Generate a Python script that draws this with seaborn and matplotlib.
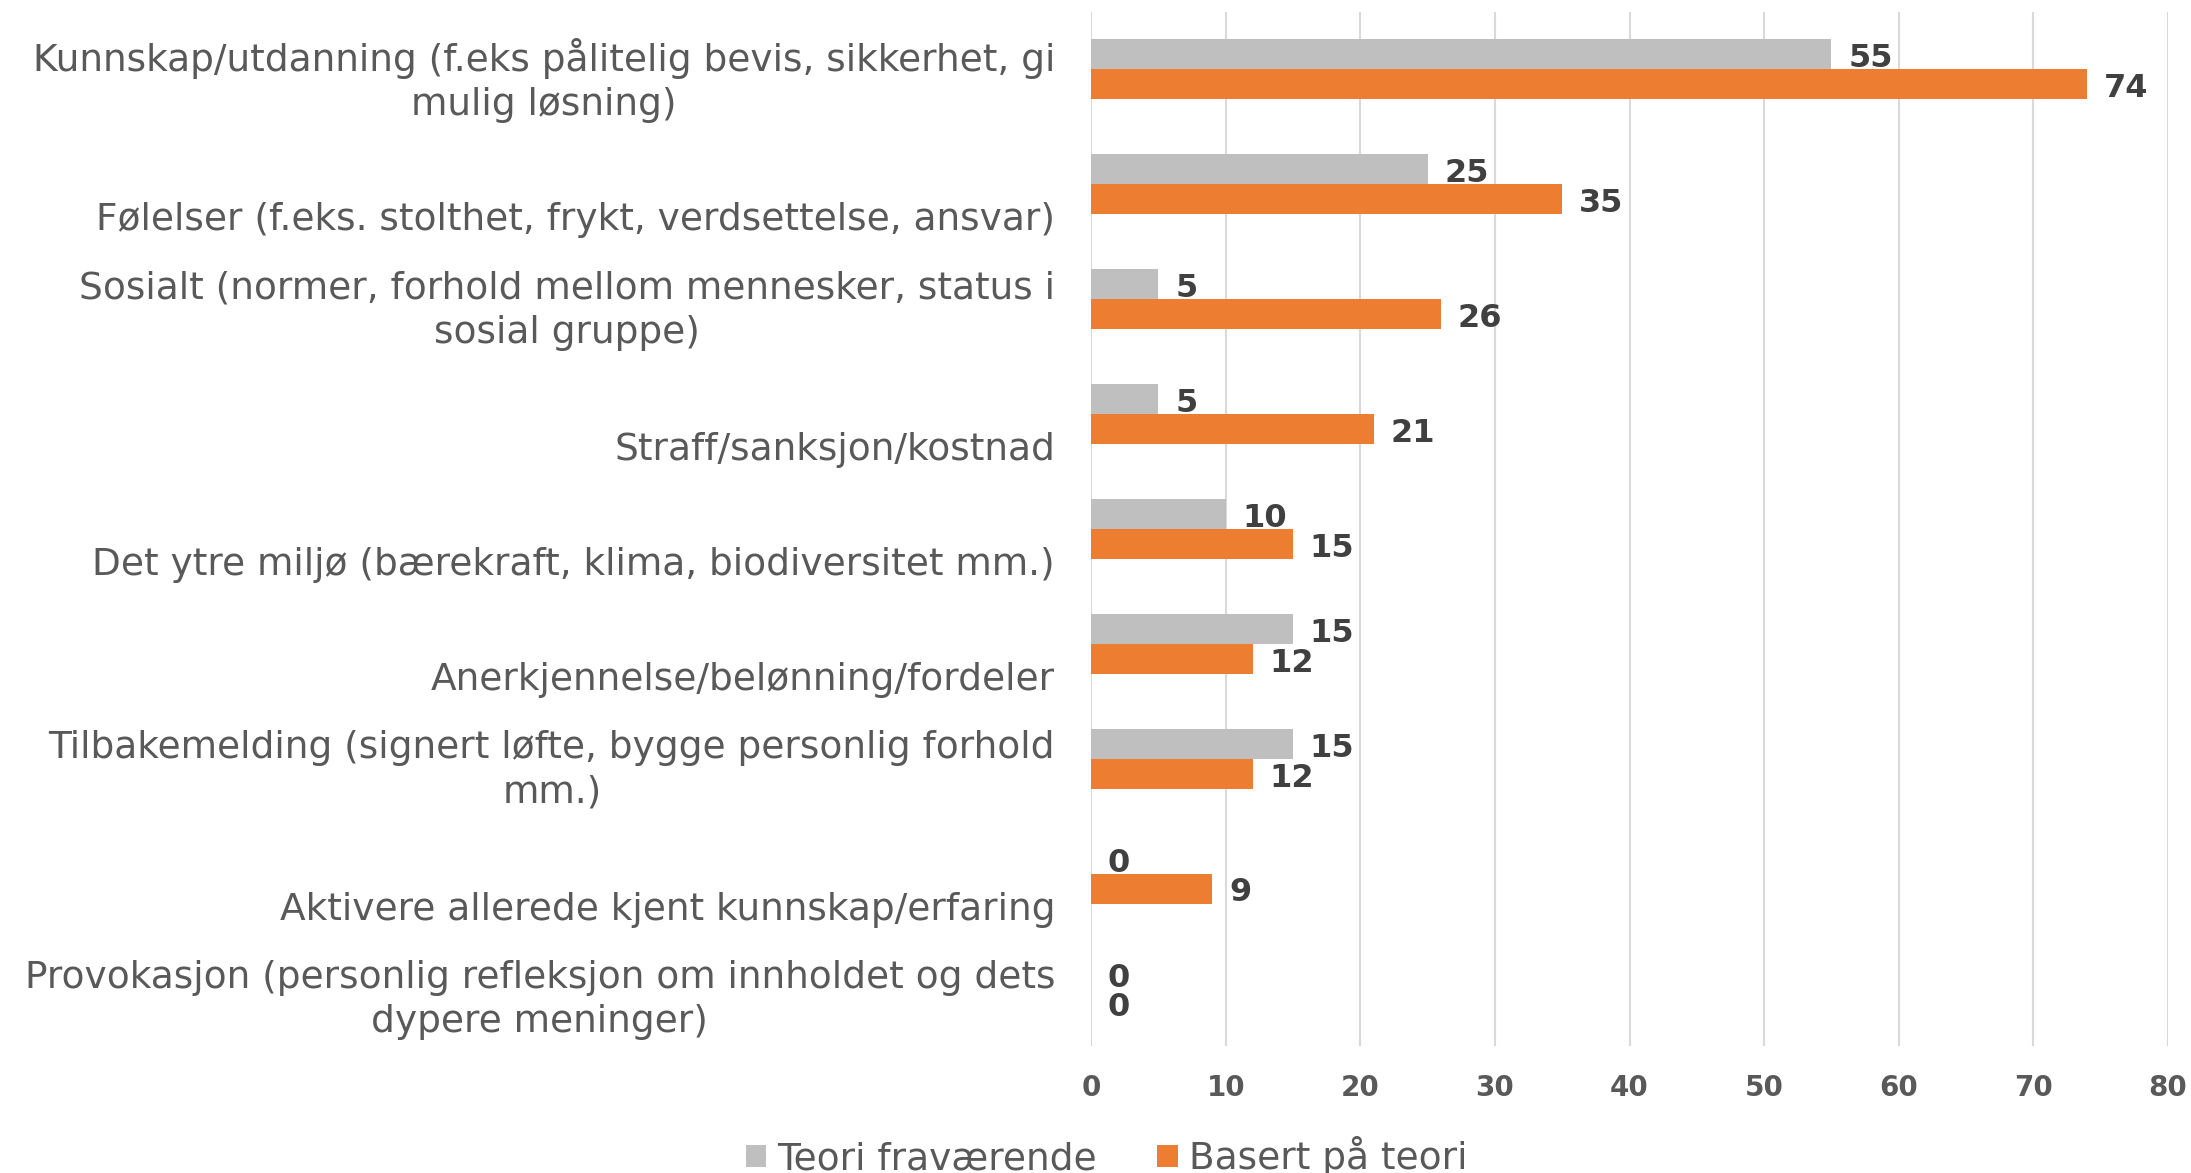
import pandas as pd
import matplotlib
matplotlib.use("Agg")
import matplotlib.pyplot as plt
import matplotlib.transforms as mtransforms
import seaborn as sns

categories = [
    "Kunnskap/utdanning (f.eks pålitelig bevis, sikkerhet, gi\nmulig løsning)",
    "Følelser (f.eks. stolthet, frykt, verdsettelse, ansvar)",
    "Sosialt (normer, forhold mellom mennesker, status i\nsosial gruppe)",
    "Straff/sanksjon/kostnad",
    "Det ytre miljø (bærekraft, klima, biodiversitet mm.)",
    "Anerkjennelse/belønning/fordeler",
    "Tilbakemelding (signert løfte, bygge personlig forhold\nmm.)",
    "Aktivere allerede kjent kunnskap/erfaring",
    "Provokasjon (personlig refleksjon om innholdet og dets\ndypere meninger)",
]
teori_fravaerende = [55, 25, 5, 5, 10, 15, 15, 0, 0]
basert_paa_teori = [74, 35, 26, 21, 15, 12, 12, 9, 0]
series_names = ["Teori fraværende", "Basert på teori"]
xticks = [0, 10, 20, 30, 40, 50, 60, 70, 80]

df = pd.DataFrame({
    "kategori": categories * 2,
    "verdi": teori_fravaerende + basert_paa_teori,
    "serie": [series_names[0]] * len(categories) + [series_names[1]] * len(categories),
})

sns.set_theme(style="white")
plt.rcParams["font.family"] = ["DejaVu Sans"]
TXT = "#595959"

fig = plt.figure(figsize=(21.91, 11.73), dpi=100)
ax = fig.add_axes([0.498, 0.108, 0.4915, 0.882])

sns.barplot(data=df, y="kategori", x="verdi", hue="serie", orient="h",
            palette=["#BFBFBF", "#ED7D31"], saturation=1, width=0.52,
            linewidth=0, ax=ax, errorbar=None)

for c in ax.containers:
    for t in ax.bar_label(c, fmt="%d", padding=12, fontsize=23, fontweight="bold", color="#404040"):
        t.xyann = (12, -3)

ax.set_xlim(0, 80)
ax.set_xticks(xticks)
ax.set_ylim(8.5, -0.5)
ax.grid(axis="x", color="#D9D9D9", linewidth=1.5)
ax.grid(axis="y", visible=False)
ax.set_axisbelow(True)
for s in ax.spines.values():
    s.set_visible(False)
ax.set_xlabel("")
ax.set_ylabel("")
ax.tick_params(axis="x", length=0, pad=20, labelsize=20, labelcolor=TXT)
ax.tick_params(axis="y", length=0, pad=26, labelsize=27, labelcolor=TXT)
for lbl in ax.get_xticklabels():
    lbl.set_fontweight("bold")
for lbl in ax.get_yticklabels():
    lbl.set_multialignment("center")
    lbl.set_linespacing(1.3)
    dy = -3 if "\n" in lbl.get_text() else -32
    lbl.set_transform(lbl.get_transform() + mtransforms.ScaledTranslation(0, dy / 100, fig.dpi_scale_trans))

handles, labels = ax.get_legend_handles_labels()
ax.legend(handles, labels, loc="center", bbox_to_anchor=(0.505, 0.014),
          bbox_transform=fig.transFigure, ncol=2, frameon=False, fontsize=27,
          labelcolor=TXT, handlelength=0.55, handleheight=0.55, handletextpad=0.3,
          columnspacing=1.6)

fig.savefig("out.png", dpi=100)
